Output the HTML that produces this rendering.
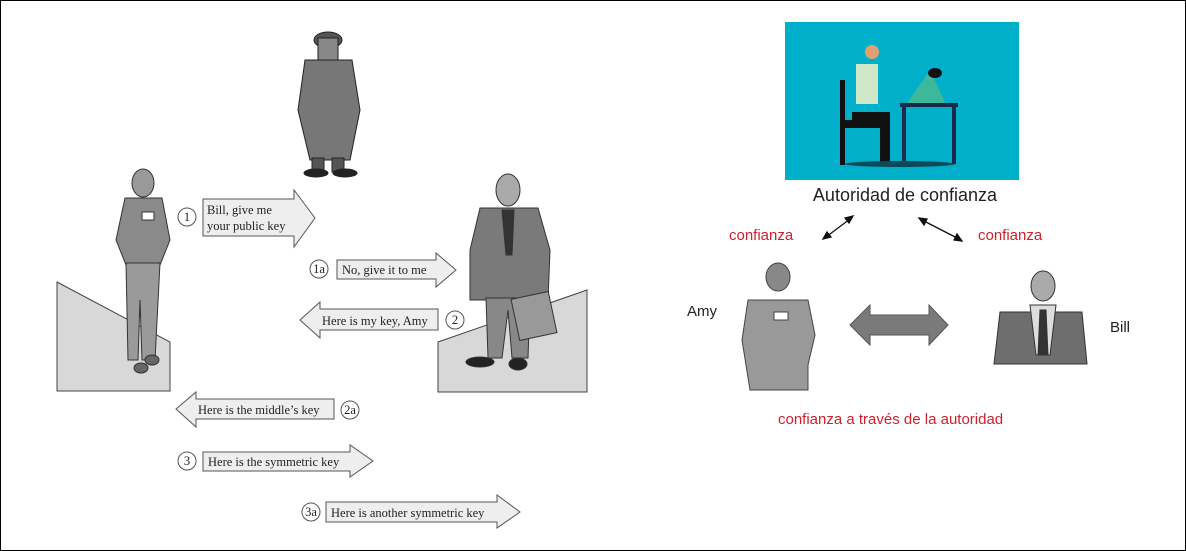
<!DOCTYPE html>
<html><head><meta charset="utf-8"><style>
html,body{margin:0;padding:0;background:#fff}
svg{display:block}
.s{font-family:"Liberation Serif",serif;font-size:12.5px;fill:#222}
.a{font-family:"Liberation Sans",sans-serif}
</style></head><body>
<svg width="1186" height="551" viewBox="0 0 1186 551" xmlns="http://www.w3.org/2000/svg">
<rect x="0.5" y="0.5" width="1185" height="550" fill="#fff" stroke="#000"/>
<!-- platforms -->
<polygon points="57,282 170,342 170,391 57,391" fill="#d8d8d8" stroke="#444"/>
<polygon points="438,342 587,290 587,392 438,392" fill="#d8d8d8" stroke="#444"/>
<!-- spy -->
<g fill="#555" stroke="#222">
<ellipse cx="328" cy="40" rx="14" ry="8"/><rect x="318" y="38" width="20" height="22" fill="#888"/>
<polygon points="305,60 352,60 360,110 350,160 310,160 298,110" fill="#777"/>
<rect x="312" y="158" width="12" height="14"/><rect x="332" y="158" width="12" height="14"/>
<ellipse cx="316" cy="173" rx="12" ry="4" fill="#222"/><ellipse cx="345" cy="173" rx="12" ry="4" fill="#222"/>
</g>
<!-- Amy left -->
<g stroke="#333" fill="#8a8a8a">
<ellipse cx="143" cy="183" rx="11" ry="14" fill="#999"/>
<polygon points="125,198 162,198 170,240 160,265 126,265 116,240" />
<rect x="142" y="212" width="12" height="8" fill="#fff"/>
<polygon points="126,263 160,263 155,360 142,360 140,300 138,360 128,360" fill="#9a9a9a"/>
<ellipse cx="141" cy="368" rx="7" ry="5" fill="#666"/><ellipse cx="152" cy="360" rx="7" ry="5" fill="#666"/>
</g>
<!-- Bill left -->
<g stroke="#333" fill="#7a7a7a">
<ellipse cx="508" cy="190" rx="12" ry="16" fill="#aaa"/>
<polygon points="480,208 538,208 550,250 548,300 470,300 470,250" />
<polygon points="502,210 514,210 512,255 506,255" fill="#333"/>
<polygon points="486,298 530,298 528,358 512,358 508,310 502,358 488,358" fill="#888"/>
<rect x="515" y="295" width="38" height="42" fill="#999" transform="rotate(-12 534 316)"/>
<ellipse cx="480" cy="362" rx="14" ry="5" fill="#222"/><ellipse cx="518" cy="364" rx="9" ry="6" fill="#222"/>
</g>
<!-- arrows -->
<g fill="#eee" stroke="#555" stroke-width="1">
<polygon points="203,199 294,199 294,190 315,218 294,247 294,236 203,236"/>
<polygon points="337,260 436,260 436,253 456,270 436,287 436,279 337,279"/>
<polygon points="438,309 320,309 320,302 300,320 320,338 320,330 438,330"/>
<polygon points="334,399 196,399 196,392 176,409 196,427 196,419 334,419"/>
<polygon points="203,452 350,452 350,445 373,461 350,477 350,471 203,471"/>
<polygon points="326,502 497,502 497,495 520,512 497,528 497,522 326,522"/>
</g>
<g fill="#fff" stroke="#555">
<circle cx="187" cy="217" r="9"/><circle cx="319" cy="269" r="9"/><circle cx="455" cy="320" r="9"/>
<circle cx="350" cy="410" r="9"/><circle cx="187" cy="461" r="9"/><circle cx="311" cy="512" r="9"/>
</g>
<g class="s" text-anchor="middle">
<text x="187" y="221">1</text><text x="319" y="273">1a</text><text x="455" y="324">2</text>
<text x="350" y="414">2a</text><text x="187" y="465">3</text><text x="311" y="516">3a</text>
</g>
<g class="s">
<text x="207" y="214">Bill, give me</text><text x="207" y="230">your public key</text>
<text x="342" y="274">No, give it to me</text>
<text x="322" y="325">Here is my key, Amy</text>
<text x="198" y="414">Here is the middle’s key</text>
<text x="208" y="466">Here is the symmetric key</text>
<text x="331" y="517">Here is another symmetric key</text>
</g>
<!-- right -->
<rect x="785" y="22" width="234" height="158" fill="#00afca"/>
<g>
<rect x="840" y="80" width="5" height="85" fill="#111"/>
<rect x="840" y="120" width="40" height="8" fill="#111"/>
<rect x="856" y="64" width="22" height="40" fill="#cfe8c8"/>
<circle cx="872" cy="52" r="7" fill="#e0a070"/>
<rect x="852" y="112" width="36" height="10" fill="#111"/>
<rect x="880" y="112" width="10" height="50" fill="#111"/>
<polygon points="907,103 930,70 946,104" fill="#3cb89a"/>
<rect x="900" y="103" width="58" height="4" fill="#1a2a4a"/>
<rect x="902" y="106" width="4" height="58" fill="#1a2a4a"/>
<rect x="952" y="106" width="4" height="58" fill="#1a2a4a"/>
<ellipse cx="935" cy="73" rx="7" ry="5" fill="#111"/>
<ellipse cx="900" cy="164" rx="55" ry="3" fill="#0a4a5a"/>
</g>
<text class="a" x="905" y="201" font-size="18" text-anchor="middle" fill="#222">Autoridad de confianza</text>
<g stroke="#111" stroke-width="1.3" fill="#111">
<line x1="850" y1="219" x2="826" y2="237"/>
<polygon points="853,216 845,218 849,223"/><polygon points="823,239 831,237 827,232"/>
<line x1="922" y1="220" x2="959" y2="239"/>
<polygon points="919,218 924,225 927,219"/><polygon points="962,241 957,234 954,240"/>
</g>
<g class="a" fill="#d0202a" font-size="15">
<text x="729" y="240">confianza</text><text x="978" y="240">confianza</text>
<text x="778" y="424">confianza a través de la autoridad</text>
</g>
<text class="a" x="687" y="316" font-size="15" fill="#222">Amy</text>
<text class="a" x="1110" y="332" font-size="15" fill="#222">Bill</text>
<polygon points="850,325 870,305 870,315 929,315 929,305 948,325 929,345 929,335 870,335 870,345" fill="#7a7a7a" stroke="#555"/>
<!-- Amy right -->
<g stroke="#444" fill="#999">
<ellipse cx="778" cy="277" rx="12" ry="14" fill="#888"/>
<polygon points="748,300 808,300 815,335 808,365 808,390 750,390 742,340"/>
<rect x="774" y="312" width="14" height="8" fill="#fff"/>
</g>
<!-- Bill right -->
<g stroke="#333" fill="#6e6e6e">
<ellipse cx="1043" cy="286" rx="12" ry="15" fill="#aaa"/>
<polygon points="1000,312 1082,312 1087,364 994,364"/>
<polygon points="1030,305 1056,305 1050,355 1036,355" fill="#ddd"/>
<polygon points="1040,310 1046,310 1048,355 1038,355" fill="#333"/>
</g>
</svg>
</body></html>
